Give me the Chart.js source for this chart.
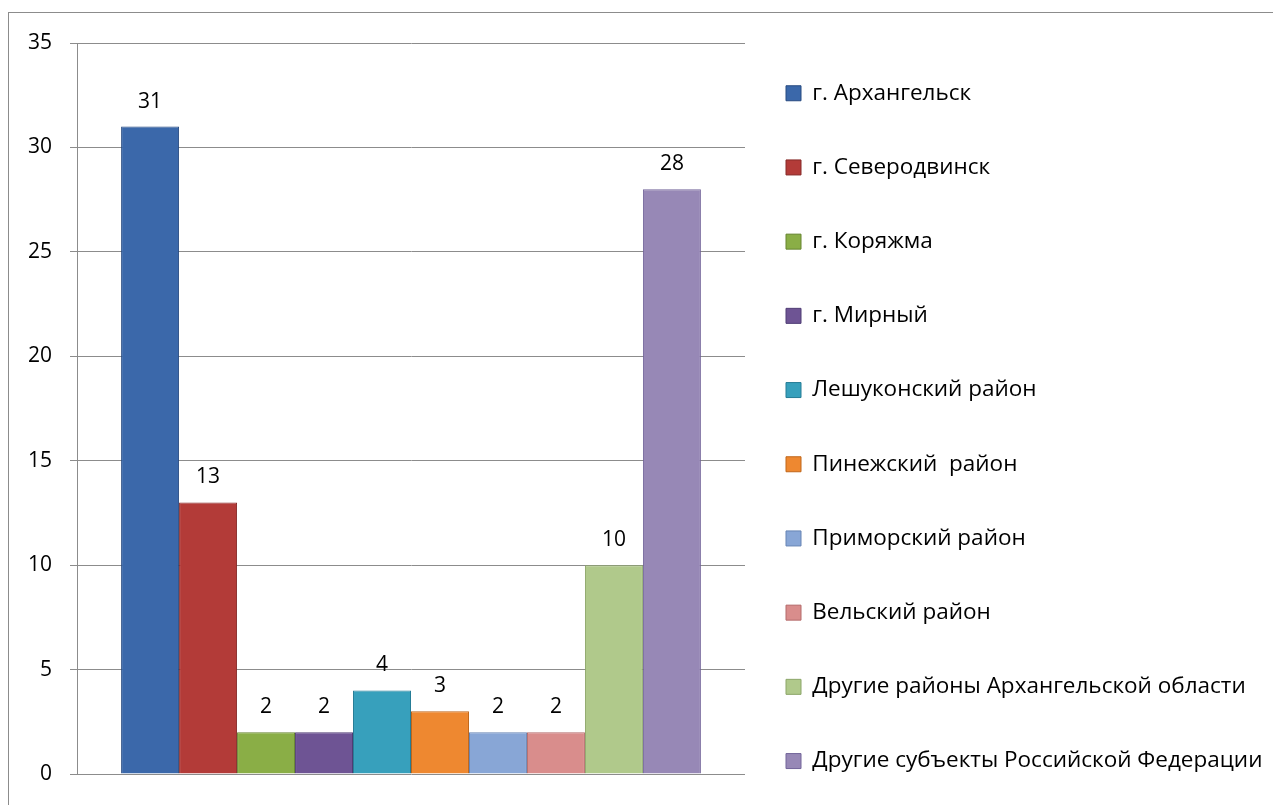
<!DOCTYPE html>
<html>
<head>
<meta charset="utf-8">
<script src="https://cdn.jsdelivr.net/npm/chart.js@4"></script>
<style>
  html, body { margin: 0; padding: 0; background: #fff; overflow: hidden; }
  #wrap { position: relative; width: 1273px; height: 805px; }
  #frame { position: absolute; left: 8px; top: 12px; width: 1300px; height: 830px;
           border-left: 1px solid #8c8c8c; border-top: 1px solid #8c8c8c; pointer-events: none; }
</style>
</head>
<body>
<div id="wrap">
  <canvas id="chart" width="1273" height="805"></canvas>
  <div id="frame"></div>
</div>
<script>
// values
const seriesNames = [
  "г. Архангельск",
  "г. Северодвинск",
  "г. Коряжма",
  "г. Мирный",
  "Лешуконский район",
  "Пинежский  район",
  "Приморский район",
  "Вельский район",
  "Другие районы Архангельской области",
  "Другие субъекты Российской Федерации"
];
const seriesValues = [31, 13, 2, 2, 4, 3, 2, 2, 10, 28];
const seriesColors = ["#3b68aa", "#b33b38", "#8aae46", "#6e5494", "#37a0bc",
                      "#ee8830", "#88a6d6", "#d98d8c", "#b0c98b", "#9788b6"];
const borderColors = ["#274a80", "#862a28", "#66842f", "#4f3c74", "#257c96",
                      "#c06619", "#6684b4", "#b46b6a", "#8ca668", "#73659a"];
const yTicks = { min: 0, max: 35, step: 5 };

const FONT = "'Open Sans', 'DejaVu Sans', sans-serif";

const datasets = seriesNames.map((name, i) => ({
  label: [name],
  data: [seriesValues[i]],
  backgroundColor: seriesColors[i],
  borderColor: borderColors[i],
  borderWidth: 1,
  categoryPercentage: 0.868,
  barPercentage: 1
}));

// numbers above bars
const valueLabels = {
  id: "valueLabels",
  afterDatasetsDraw(chart) {
    const ctx = chart.ctx;
    ctx.save();
    ctx.font = "21px " + FONT;
    ctx.fillStyle = "#000";
    ctx.textAlign = "center";
    ctx.textBaseline = "middle";
    chart.data.datasets.forEach((ds, i) => {
      chart.getDatasetMeta(i).data.forEach((bar, j) => {
        ctx.fillText(ds.data[j], bar.x, bar.y - 25);
      });
    });
    ctx.restore();
  }
};

// keep the legend at a fixed width next to the plot
const legendWidth = {
  id: "legendWidth",
  beforeLayout(chart) {
    const lg = chart.legend;
    if (lg && !lg._fixedFit) {
      const fit = lg.fit;
      lg.fit = function () {
        fit.call(this);
        this.width = 528;
      };
      lg._fixedFit = true;
    }
  }
};

new Chart(document.getElementById("chart"), {
  type: "bar",
  data: { labels: [""], datasets: datasets },
  plugins: [valueLabels, legendWidth],
  options: {
    responsive: false,
    animation: false,
    layout: { padding: { top: 39, left: 0, right: 0, bottom: -12 } },
    plugins: {
      title: { display: true, text: "", font: { size: 3, lineHeight: 1 }, padding: 0.5 },
      tooltip: { enabled: false },
      legend: {
        position: "right",
        align: "start",
        title: { display: true, text: "", font: { size: 2, lineHeight: "2px" }, padding: 0 },
        labels: {
          boxWidth: 15,
          boxHeight: 15,
          padding: 41,
          color: "#000",
          font: { family: FONT, size: 22.5, lineHeight: "33.2px" }
        }
      }
    },
    scales: {
      x: {
        grid: { display: false },
        border: { display: false },
        ticks: { display: false },
        afterFit(scale) { scale.height = 43; }
      },
      y: {
        min: yTicks.min,
        max: yTicks.max,
        ticks: {
          stepSize: yTicks.step,
          padding: 18,
          color: "#000",
          font: { family: FONT, size: 21 }
        },
        grid: { color: "#8c8c8c", tickLength: 7, lineWidth: 1 },
        border: { color: "#8c8c8c" },
        afterFit(scale) { scale.width = 77; }
      }
    }
  }
});
</script>
</body>
</html>
